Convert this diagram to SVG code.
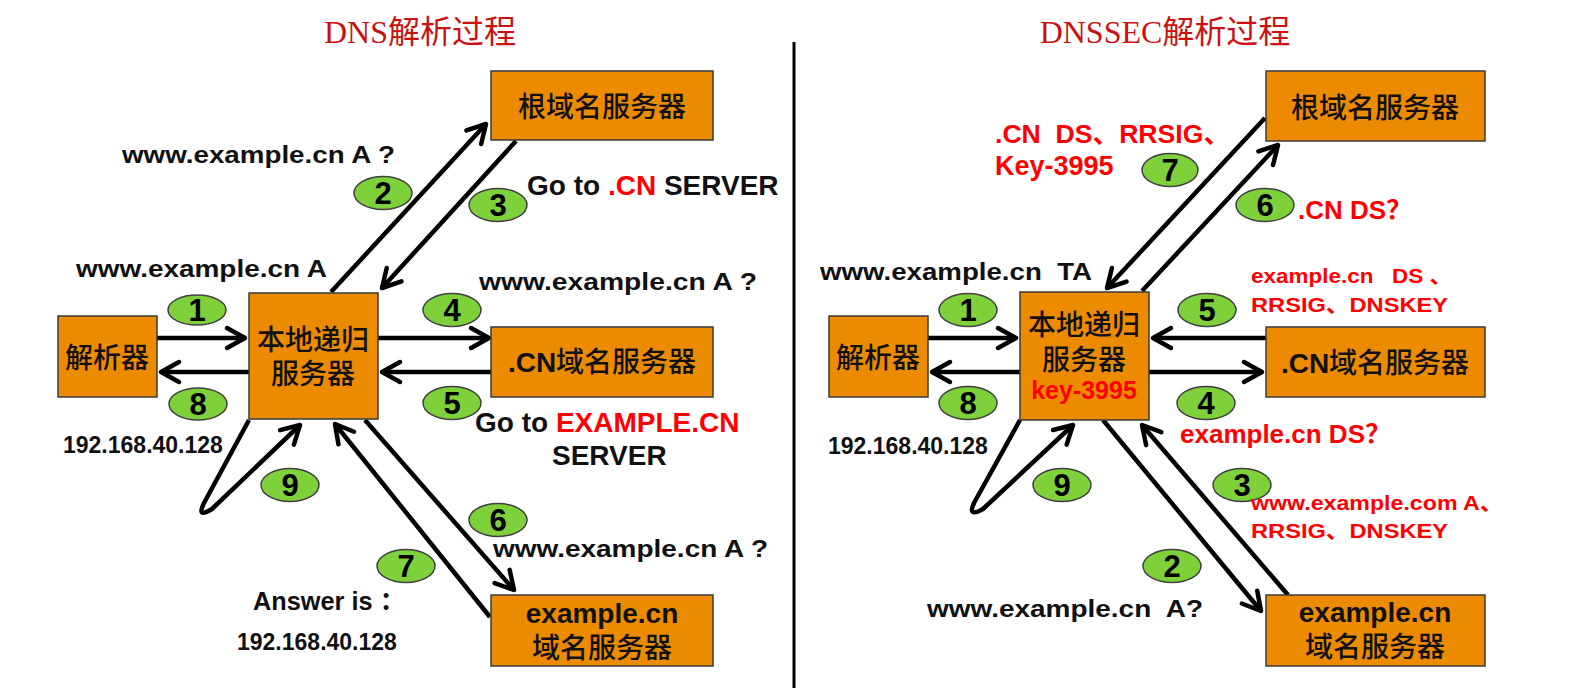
<svg xmlns="http://www.w3.org/2000/svg" width="1571" height="688" viewBox="0 0 1571 688">
<defs>
<style>
.box{fill:#EC8B00;stroke:#3a3a3a;stroke-width:1.5}
.ell{fill:#7FD13B;stroke:#404040;stroke-width:1.5}
.num{font-family:"Liberation Sans",Arial,sans-serif;font-weight:bold;font-size:31px;text-anchor:middle;fill:#000}
.cjk{font-family:"Liberation Sans","Noto Sans CJK SC",sans-serif;font-size:28px;font-weight:500;fill:#111;text-anchor:middle}
.cjk .b,.cjk.b{font-weight:bold}
.lbl{font-family:"Liberation Sans","Noto Sans CJK SC",sans-serif;font-weight:bold;fill:#111;white-space:pre}
.red{fill:#FF0000}
.title{font-family:"Liberation Serif","Noto Sans CJK SC",serif;font-size:32px;fill:#CC1010;text-anchor:middle}
.arr{stroke:#000;stroke-width:4.5;fill:none;marker-end:url(#ah);stroke-linejoin:round}
</style>
<marker id="ah" markerUnits="userSpaceOnUse" viewBox="-22 -14 26 28" refX="0" refY="0" markerWidth="26" markerHeight="28" orient="auto">
<path d="M-18 -10 L0 0 L-18 10" fill="none" stroke="#000" stroke-width="4.5" stroke-linecap="round" stroke-linejoin="round"/>
</marker>
</defs>
<rect width="1571" height="688" fill="#fff"/>

<g id="titles">
<text class="title" x="420" y="43">DNS解析过程</text>
<text class="title" x="1165" y="43">DNSSEC解析过程</text>
</g>
<line id="divider" x1="794" y1="42" x2="794" y2="688" stroke="#000" stroke-width="3"/>

<g id="connectors">
<path class="arr" d="M157 338 L245 338"/>
<path class="arr" d="M249 372 L161 372"/>
<path class="arr" d="M378 338 L489 338"/>
<path class="arr" d="M491 372 L382 372"/>
<path class="arr" d="M331 292 L486 124"/>
<path class="arr" d="M516 141 L382 288"/>
<path class="arr" d="M365 420 L514 590"/>
<path class="arr" d="M490 617 L335 424"/>
<path class="arr" d="M249 420 L204 503 Q196 519 212 509 L300 425"/>

<path class="arr" d="M928 338 L1016 338"/>
<path class="arr" d="M1020 372 L932 372"/>
<path class="arr" d="M1266 338 L1153 338"/>
<path class="arr" d="M1149 372 L1262 372"/>
<path class="arr" d="M1142 291 L1278 145"/>
<path class="arr" d="M1265 118 L1107 288"/>
<path class="arr" d="M1103 420 L1261 611"/>
<path class="arr" d="M1288 595 L1142 425"/>
<path class="arr" d="M1020 420 L974 503 Q967 518 983 509 L1073 425"/>
</g>

<g id="L-root"><rect class="box" x="491" y="71" width="222" height="69"/><text class="cjk" x="602" y="117">根域名服务器</text></g>
<g id="L-resolver"><rect class="box" x="58" y="316" width="99" height="81"/><text class="cjk" x="107" y="368">解析器</text></g>
<g id="L-local"><rect class="box" x="249" y="293" width="129" height="126"/><text class="cjk" x="313" y="350">本地递归</text><text class="cjk" x="313" y="384">服务器</text></g>
<g id="L-cn"><rect class="box" x="491" y="327" width="222" height="70"/><text class="cjk" x="602" y="372"><tspan class="b">.CN</tspan>域名服务器</text></g>
<g id="L-example"><rect class="box" x="491" y="595" width="222" height="71"/><text class="cjk b" x="602" y="623">example.cn</text><text class="cjk" x="602" y="658">域名服务器</text></g>

<g id="R-root"><rect class="box" x="1266" y="71" width="219" height="70"/><text class="cjk" x="1375" y="118">根域名服务器</text></g>
<g id="R-resolver"><rect class="box" x="829" y="316" width="99" height="81"/><text class="cjk" x="878" y="368">解析器</text></g>
<g id="R-local"><rect class="box" x="1020" y="292" width="129" height="128"/><text class="cjk" x="1084" y="335">本地递归</text><text class="cjk" x="1084" y="370">服务器</text><text class="lbl red" x="1084" y="399" font-size="25" text-anchor="middle">key-3995</text></g>
<g id="R-cn"><rect class="box" x="1266" y="327" width="219" height="70"/><text class="cjk" x="1375" y="373"><tspan class="b">.CN</tspan>域名服务器</text></g>
<g id="R-example"><rect class="box" x="1266" y="595" width="219" height="71"/><text class="cjk b" x="1375" y="622">example.cn</text><text class="cjk" x="1375" y="657">域名服务器</text></g>

<g id="L-steps">
<ellipse class="ell" cx="197" cy="310" rx="29" ry="15"/><text class="num" x="197" y="321">1</text>
<ellipse class="ell" cx="383" cy="193" rx="29" ry="16.5"/><text class="num" x="383" y="204">2</text>
<ellipse class="ell" cx="498" cy="205" rx="29" ry="16.5"/><text class="num" x="498" y="216">3</text>
<ellipse class="ell" cx="452" cy="310" rx="29" ry="16.5"/><text class="num" x="452" y="321">4</text>
<ellipse class="ell" cx="452" cy="403" rx="29" ry="16.5"/><text class="num" x="452" y="414">5</text>
<ellipse class="ell" cx="498" cy="520" rx="29" ry="16.5"/><text class="num" x="498" y="531">6</text>
<ellipse class="ell" cx="406" cy="566" rx="29" ry="16.5"/><text class="num" x="406" y="577">7</text>
<ellipse class="ell" cx="198" cy="404" rx="29" ry="16"/><text class="num" x="198" y="415">8</text>
<ellipse class="ell" cx="290" cy="485" rx="29" ry="16.5"/><text class="num" x="290" y="496">9</text>
</g>

<g id="R-steps">
<ellipse class="ell" cx="968" cy="310" rx="29" ry="16.5"/><text class="num" x="968" y="321">1</text>
<ellipse class="ell" cx="1172" cy="566" rx="29" ry="16.5"/><text class="num" x="1172" y="577">2</text>
<ellipse class="ell" cx="1242" cy="485" rx="29" ry="16.5"/><text class="num" x="1242" y="496">3</text>
<ellipse class="ell" cx="1206" cy="403" rx="29" ry="16.5"/><text class="num" x="1206" y="414">4</text>
<ellipse class="ell" cx="1207" cy="310" rx="29" ry="16.5"/><text class="num" x="1207" y="321">5</text>
<ellipse class="ell" cx="1265" cy="205" rx="29" ry="16.5"/><text class="num" x="1265" y="216">6</text>
<ellipse class="ell" cx="1170" cy="170" rx="28" ry="16.5"/><text class="num" x="1170" y="181">7</text>
<ellipse class="ell" cx="968" cy="403" rx="29" ry="16.5"/><text class="num" x="968" y="414">8</text>
<ellipse class="ell" cx="1062" cy="485" rx="29" ry="16.5"/><text class="num" x="1062" y="496">9</text>
</g>

<g id="L-labels">
<text class="lbl" x="122" y="163" font-size="24" textLength="273" lengthAdjust="spacingAndGlyphs">www.example.cn A ?</text>
<text class="lbl" x="527" y="195" font-size="28">Go to <tspan class="red">.CN</tspan> SERVER</text>
<text class="lbl" x="76" y="277" font-size="24" textLength="251" lengthAdjust="spacingAndGlyphs">www.example.cn A</text>
<text class="lbl" x="479" y="290" font-size="24" textLength="278" lengthAdjust="spacingAndGlyphs">www.example.cn A ?</text>
<text class="lbl" x="475" y="432" font-size="28">Go to <tspan class="red">EXAMPLE.CN</tspan></text>
<text class="lbl" x="552" y="465" font-size="28">SERVER</text>
<text class="lbl" x="493" y="557" font-size="24" textLength="275" lengthAdjust="spacingAndGlyphs">www.example.cn A ?</text>
<text class="lbl" x="253" y="610" font-size="26" textLength="152" lengthAdjust="spacingAndGlyphs">Answer is ：</text>
<text class="lbl" x="237" y="650" font-size="23">192.168.40.128</text>
<text class="lbl" x="63" y="453" font-size="23">192.168.40.128</text>
</g>

<g id="R-labels">
<text class="lbl red" x="995" y="143" font-size="26" textLength="235" lengthAdjust="spacingAndGlyphs">.CN  DS、RRSIG、</text>
<text class="lbl red" x="995" y="175" font-size="27">Key-3995</text>
<text class="lbl" x="820" y="280" font-size="24" textLength="272" lengthAdjust="spacingAndGlyphs">www.example.cn  TA</text>
<text class="lbl red" x="1298" y="219" font-size="26">.CN DS？</text>
<text class="lbl red" x="1251" y="283" font-size="21" textLength="201" lengthAdjust="spacingAndGlyphs">example.cn   DS 、</text>
<text class="lbl red" x="1251" y="312" font-size="21" textLength="197" lengthAdjust="spacingAndGlyphs">RRSIG、DNSKEY</text>
<text class="lbl red" x="1180" y="443" font-size="26">example.cn DS？</text>
<text class="lbl red" x="1251" y="510" font-size="21" textLength="252" lengthAdjust="spacingAndGlyphs">www.example.com A、</text>
<text class="lbl red" x="1251" y="538" font-size="21" textLength="197" lengthAdjust="spacingAndGlyphs">RRSIG、DNSKEY</text>
<text class="lbl" x="927" y="617" font-size="24" textLength="276" lengthAdjust="spacingAndGlyphs">www.example.cn  A?</text>
<text class="lbl" x="828" y="454" font-size="23">192.168.40.128</text>
</g>
</svg>
